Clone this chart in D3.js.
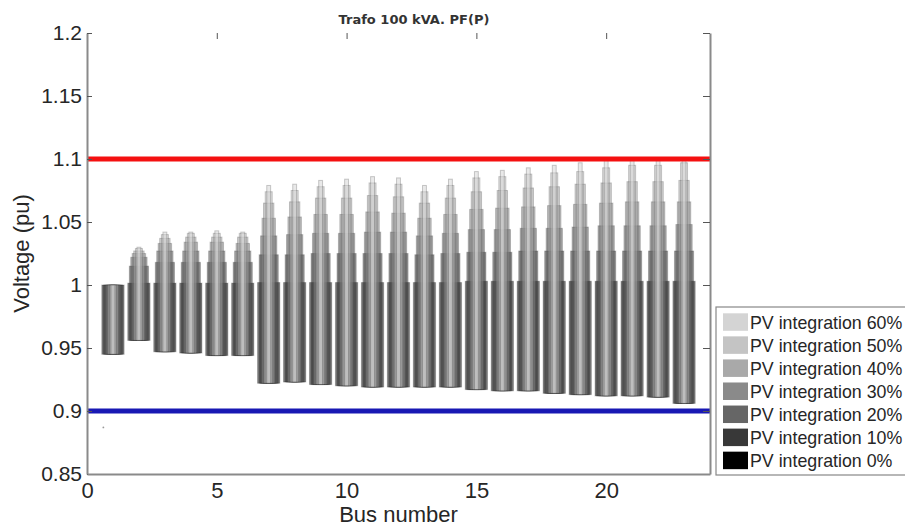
<!DOCTYPE html>
<html><head><meta charset="utf-8">
<script src="https://cdn.jsdelivr.net/npm/d3@7"></script>
<style>body{margin:0;background:#fff}svg{display:block;background:#fff}</style>
</head><body><svg id="chart" width="905" height="530"></svg>
<script>
// ---------- data ----------
const buses = [1,2,3,4,5,6,7,8,9,10,11,12,13,14,15,16,17,18,19,20,21,22,23];
const minV = [0.945,0.956,0.947,0.946,0.944,0.944,0.922,0.923,0.921,0.920,0.919,0.919,0.919,0.919,0.917,0.916,0.916,0.914,0.913,0.912,0.912,0.911,0.906];
const pv0  = [1.000,1.0015,1.0015,1.0015,1.0015,1.0015,1.002,1.002,1.002,1.002,1.002,1.002,1.002,1.002,1.003,1.003,1.003,1.003,1.003,1.003,1.003,1.003,1.003];
const pv10 = [1.000,1.015,1.018,1.018,1.018,1.018,1.024,1.024,1.025,1.025,1.025,1.025,1.024,1.025,1.026,1.026,1.027,1.027,1.027,1.027,1.027,1.027,1.027];
const pv20 = [1.000,1.022,1.027,1.027,1.027,1.027,1.039,1.040,1.041,1.041,1.042,1.042,1.039,1.041,1.044,1.044,1.045,1.045,1.046,1.047,1.047,1.047,1.048];
const pv30 = [1.000,1.025,1.033,1.034,1.034,1.033,1.053,1.054,1.056,1.056,1.058,1.057,1.053,1.056,1.060,1.061,1.062,1.063,1.064,1.065,1.066,1.066,1.066];
const pv40 = [1.000,1.027,1.037,1.038,1.038,1.038,1.065,1.066,1.069,1.069,1.071,1.070,1.065,1.069,1.074,1.075,1.077,1.078,1.080,1.081,1.082,1.082,1.083];
const pv50 = [1.000,1.029,1.040,1.041,1.041,1.041,1.074,1.075,1.078,1.079,1.081,1.080,1.074,1.079,1.085,1.086,1.088,1.089,1.090,1.093,1.095,1.095,1.097];
const pv60 = [1.000,1.030,1.042,1.042,1.043,1.042,1.079,1.080,1.083,1.084,1.086,1.085,1.079,1.084,1.090,1.091,1.093,1.095,1.097,1.099,1.100,1.100,1.101];
const levelNames = ["PV integration 0%","PV integration 10%","PV integration 20%","PV integration 30%","PV integration 40%","PV integration 50%","PV integration 60%"];
const upperLimit = 1.1;
const lowerLimit = 0.9;
const xTicks = [0,5,10,15,20];
const xTopTicks = [5,10,15,20];
const yTicks = [0.85,0.9,0.95,1,1.05,1.1,1.15,1.2];
const yTickLabels = ["0.85","0.9","0.95","1","1.05","1.1","1.15","1.2"];
const strayX = [0.63];
const strayY = [0.887];
const titleText = "Trafo 100 kVA. PF(P)";
const xLabel = "Bus number";
const yLabel = "Voltage (pu)";

// ---------- styles ----------
const levelMax = [pv0,pv10,pv20,pv30,pv40,pv50,pv60];
const levelWidth = [0.86,0.74,0.63,0.52,0.40,0.27,0.15];
const levelColor = ["#000000","#383838","#666666","#8a8a8a","#a9a9a9","#c4c4c4","#d4d4d4"];
const barAlpha = 0.5;
const axisGray = "#8a8a8a";
const textColor = "#262626";
const font = "'Liberation Sans', Arial, sans-serif";

const svg = d3.select("#chart");
const x = d3.scaleLinear().domain([0,24]).range([87,710]);
const y = d3.scaleLinear().domain([0.85,1.2]).range([474,33]);

// bars
const gBars = svg.append("g");
levelMax.forEach((arr,k) => {
  gBars.append("g").selectAll("rect").data(buses).join("rect")
    .attr("x", b => x(b - levelWidth[k]/2))
    .attr("width", x(levelWidth[k]) - x(0))
    .attr("y", (b,i) => y(arr[i]))
    .attr("height", (b,i) => y(minV[i]) - y(arr[i]))
    .attr("fill", levelColor[k]).attr("fill-opacity", barAlpha)
    .attr("stroke", "#000").attr("stroke-opacity", 0.2).attr("stroke-width", 1);
});

// stray point
svg.append("g").selectAll("circle").data(strayX).join("circle")
  .attr("cx", d => x(d)).attr("cy", (d,i) => y(strayY[i])).attr("r", 0.9).attr("fill", "#999");

// limit lines
svg.append("line").attr("x1", x(0)).attr("x2", x(24)).attr("y1", y(upperLimit)).attr("y2", y(upperLimit))
  .attr("stroke", "#f41010").attr("stroke-width", 5);
svg.append("line").attr("x1", x(0)).attr("x2", x(24)).attr("y1", y(lowerLimit)).attr("y2", y(lowerLimit))
  .attr("stroke", "#1818b4").attr("stroke-width", 5);

function styleAxis(g) {
  g.select(".domain").attr("stroke", axisGray).attr("stroke-width", 2);
  g.selectAll(".tick line").attr("stroke", "#555").attr("stroke-width", 1);
  g.selectAll("text").attr("fill", textColor).attr("font-family", font);
}

// left axis
const gl = svg.append("g").attr("transform", `translate(${x(0)},0)`)
  .call(d3.axisLeft(y).tickValues(yTicks).tickFormat((d,i) => yTickLabels[i]).tickSizeInner(-5).tickSizeOuter(0).tickPadding(5));
styleAxis(gl); gl.selectAll("text").attr("font-size", 21);

// right axis
const gr = svg.append("g").attr("transform", `translate(${x(24)},0)`)
  .call(d3.axisRight(y).tickValues(yTicks).tickFormat("").tickSizeInner(-7).tickSizeOuter(0));
styleAxis(gr);

// bottom axis
const gb = svg.append("g").attr("transform", `translate(0,${y(0.85)})`)
  .call(d3.axisBottom(x).tickValues(xTicks).tickFormat(d3.format("d")).tickSizeInner(0).tickSizeOuter(0).tickPadding(8));
styleAxis(gb); gb.selectAll("text").attr("font-size", 22);
gb.selectAll(".tick line").remove();

// top ticks (no line)
const gt = svg.append("g").attr("transform", `translate(0,${y(1.2)})`)
  .call(d3.axisTop(x).tickValues(xTopTicks).tickFormat("").tickSizeInner(-6).tickSizeOuter(0));
styleAxis(gt); gt.select(".domain").remove();

// titles
svg.append("text").attr("x", 414).attr("y", 24).attr("text-anchor", "middle")
  .attr("font-family", "'DejaVu Sans', Verdana, sans-serif").attr("font-weight", 600).attr("font-size", 13)
  .attr("fill", "#333").text(titleText);
svg.append("text").attr("x", (x(0)+x(24))/2).attr("y", 522).attr("text-anchor", "middle")
  .attr("font-family", font).attr("font-size", 22).attr("fill", textColor).text(xLabel);
svg.append("text").attr("transform", `translate(29,${(y(0.85)+y(1.2))/2}) rotate(-90)`).attr("text-anchor", "middle")
  .attr("font-family", font).attr("font-size", 22).attr("fill", textColor).text(yLabel);

// legend
const lg = svg.append("g").attr("transform", "translate(716,307)");
lg.append("rect").attr("x", 0).attr("y", 0).attr("width", 200).attr("height", 168)
  .attr("fill", "#fff").attr("stroke", "#888").attr("stroke-width", 1.2);
const order = [6,5,4,3,2,1,0];
const items = lg.selectAll("g.item").data(order).join("g").attr("class", "item")
  .attr("transform", (d,i) => `translate(7,${6.3 + i*23.06})`);
items.append("rect").attr("width", 25).attr("height", 17.5).attr("fill", d => levelColor[d]);
items.append("text").attr("x", 27).attr("y", 15.5).attr("font-family", font).attr("font-size", 17.8)
  .attr("fill", textColor).text(d => levelNames[d]);
</script></body></html>
